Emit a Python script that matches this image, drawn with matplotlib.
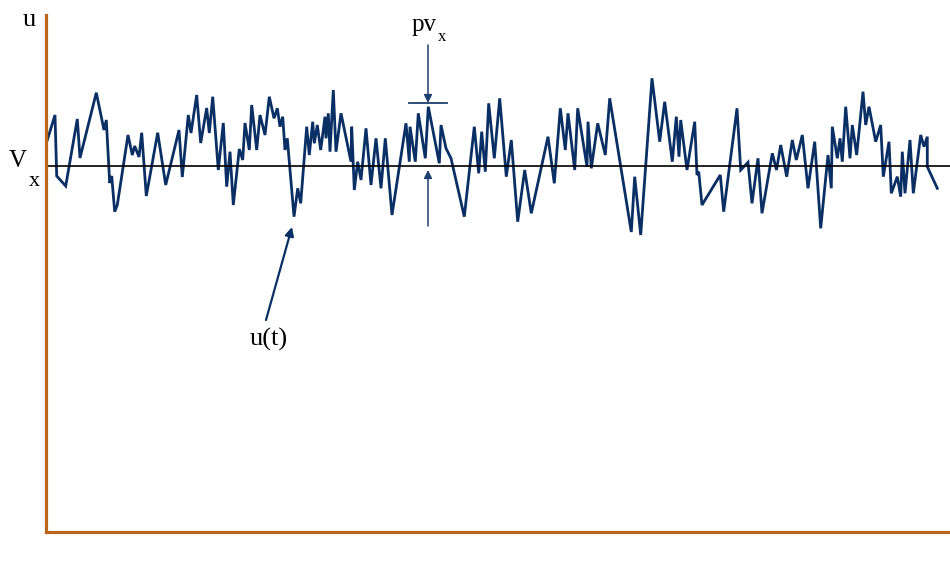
import numpy as np
import matplotlib.pyplot as plt

## data
# t - time, u - signal value, vx - nominal level
t = [0.13, 0.9, 1.07, 1.97, 3.13, 3.4, 5.03, 5.8, 6.03, 6.37, 6.57, 6.87, 7.13,
     8.2, 8.63, 8.87, 9.3, 9.57, 10.03, 11.17, 11.97, 13.3, 13.63, 14.23, 14.5,
     15.07, 15.47, 16.07, 16.33, 16.67, 17.23, 17.73, 18.07, 18.4, 18.73, 19.33,
     19.67, 19.9, 20.33, 20.57, 21.07, 21.4, 21.9, 22.33, 22.8, 23.13, 23.4,
     23.67, 23.9, 24.13, 24.8, 25.17, 25.47, 26.07, 26.33, 26.67, 26.83, 27.13,
     27.47, 27.9, 28.0, 28.23, 28.4, 28.73, 29.0, 29.5, 30.5, 30.57, 30.83,
     31.17, 31.5, 32.0, 32.5, 33.0, 33.5, 33.93, 34.6, 36.0, 36.33, 36.4, 36.93,
     37.23, 37.93, 38.23, 39.33, 39.5, 40.0, 40.5, 41.83, 42.83, 43.27, 43.57,
     43.93, 44.27, 44.83, 45.37, 46.03, 46.53, 47.17, 47.87, 48.53, 50.2, 50.83,
     51.43, 51.93, 52.2, 52.87, 53.17, 54.1, 54.2, 54.53, 55.17, 55.93, 56.37,
     58.53, 58.87, 59.47, 60.6, 61.37, 61.87, 62.63, 63.03, 63.3, 63.47, 64.1,
     64.87, 65.1, 65.27, 65.6, 67.43, 67.77, 69.1, 69.47, 70.2, 70.6, 71.2, 71.6,
     72.63, 73.05, 73.47, 74.07, 74.63, 75.03, 75.63, 76.2, 76.87, 77.47, 78.2,
     78.53, 78.63, 79.13, 79.4, 79.63, 79.97, 80.4, 80.63, 81.07, 81.7, 81.97,
     82.3, 82.97, 83.47, 83.73, 84.3, 84.53, 85.13, 85.47, 85.63, 85.9, 86.4,
     86.73, 87.47, 87.8, 88.13, 88.13, 89.13]
u = [39.2, 41.7, 35.6, 34.6, 41.3, 37.4, 43.93, 40.2, 41.2, 34.9, 35.6, 32.03, 32.7,
     39.7, 37.7, 38.6, 37.5, 39.93, 33.6, 39.93, 34.7, 40.2, 35.5, 41.7, 39.9,
     43.7, 38.9, 42.4, 39.9, 43.53, 36.2, 40.9, 34.53, 38.03, 32.7, 38.3,
     37.2, 40.9, 38.2, 42.7, 38.2, 41.7, 39.7, 43.53, 41.37, 42.37, 40.53,
     41.53, 38.2, 39.37, 31.53, 34.37, 32.87, 40.53, 37.7, 41.03, 38.87, 40.7,
     38.2, 41.53, 39.37, 41.87, 38.03, 44.2, 38.03, 41.87, 37.03, 40.53, 34.2,
     37.03, 35.2, 40.37, 34.7, 39.37, 34.37, 39.37, 31.7, 40.87, 37.03, 40.53, 37.03,
     41.87, 37.37, 42.53, 36.87, 40.7, 38.37, 37.37, 31.53, 40.53, 35.87, 40.03,
     36.03, 42.87, 37.37, 43.37, 35.53, 39.2, 31.03, 36.2, 31.87, 39.53, 34.87,
     42.37, 38.2, 41.87, 36.2, 42.37, 36.53, 41.03, 36.37, 40.87, 37.7, 43.37,
     30.0, 35.53, 29.7, 45.37, 39.03, 43.03, 37.03, 41.53, 37.53, 41.2, 36.2,
     41.03, 35.7, 36.03, 32.7, 35.7, 32.03, 42.37, 36.2, 36.97, 32.87, 37.37, 31.87,
     37.87, 36.2, 38.7, 35.53, 39.2, 37.2, 39.7, 34.37, 39.03, 30.37, 37.7,
     34.37, 40.53, 37.37, 39.37, 37.03, 42.53, 37.37, 40.7, 37.7, 44.03, 40.7,
     42.53, 39.03, 40.7, 35.53, 39.03, 33.87, 35.53, 33.53, 38.03, 33.87, 39.2,
     33.87, 39.7, 38.53, 39.53, 36.53, 34.37]
vx = 36.65

axis_color = '#B8661C'
line_color = '#0A2F64'
arrow_color = '#1F3F6E'
font = 'Liberation Serif'

fig = plt.figure(figsize=(9.5, 5.61), dpi=100)
ax = fig.add_axes([46/950, 29/561, 904/950, 517/561])

ax.plot(t, u, color=line_color, lw=2.0, solid_joinstyle='miter')
ax.axhline(vx, color='black', lw=1.2)

ax.set_xlim(0, 90.4)
ax.set_ylim(0, 51.7)

for side in ['top', 'right']:
    ax.spines[side].set_visible(False)
for side in ['left', 'bottom']:
    ax.spines[side].set_color(axis_color)
    ax.spines[side].set_linewidth(2.3)
ax.set_xticks([])
ax.set_yticks([])

# pv_x arrows
ax.annotate('', xy=(38.2, 42.9), xytext=(38.2, 48.7),
            arrowprops=dict(arrowstyle='-|>', color=arrow_color, lw=1.1,
                            mutation_scale=12, shrinkA=0, shrinkB=0))
ax.plot([36.3, 40.1], [42.9, 42.9], color=arrow_color, lw=1.3)
ax.annotate('', xy=(38.2, 36.2), xytext=(38.2, 30.6),
            arrowprops=dict(arrowstyle='-|>', color=arrow_color, lw=1.1,
                            mutation_scale=12, shrinkA=0, shrinkB=0))

# u(t) arrow
ax.annotate('', xy=(24.6, 30.5), xytext=(22.0, 21.2),
            arrowprops=dict(arrowstyle='-|>', color=line_color, lw=1.6,
                            mutation_scale=13, shrinkA=0, shrinkB=0))

# labels, positions in pixels of the picture (x centre, baseline)
def px(x, y):
    return x / 950, 1 - y / 561

kw = dict(family=font, ha='center', va='baseline')
fig.text(*px(29, 26), 'u', fontsize=19, **kw)
fig.text(*px(18, 167), 'V', fontsize=18, **kw)
fig.text(*px(34, 186), 'x', fontsize=16, **kw)
fig.text(*px(424, 31), 'pv', fontsize=18, **kw)
fig.text(*px(442, 41), 'x', fontsize=12, **kw)
fig.text(*px(269, 346), 'u(t)', fontsize=19, **kw)

fig.savefig('out.png', dpi=100)
